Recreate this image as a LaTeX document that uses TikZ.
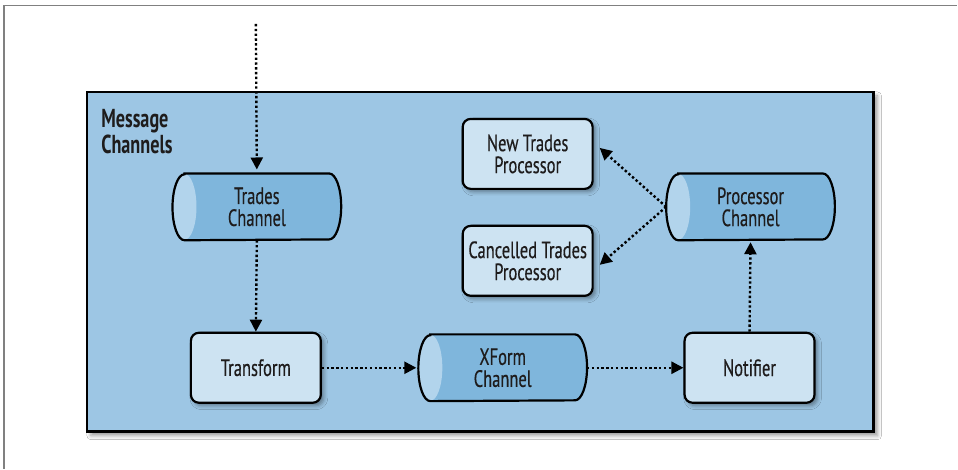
\documentclass[tikz,border=0pt]{standalone}
\usepackage{fontspec}
\setmainfont{PT Sans}[FakeStretch=0.7, UprightFeatures={FakeBold=0.4}]
\usetikzlibrary{arrows.meta,shadows.blur}
\definecolor{boxblue}{RGB}{157,198,228}
\definecolor{chanbody}{RGB}{127,182,220}
\definecolor{chanend}{RGB}{178,212,236}
\definecolor{procfill}{RGB}{205,227,242}
\definecolor{inkgray}{RGB}{30,28,28}
\pgfdeclarelayer{bg}
\pgfsetlayers{bg,main}
\tikzset{
  chan/.style={minimum width=72pt, minimum height=33pt, inner sep=0pt, align=center,
    font=\fontsize{11.8}{11}\selectfont, text=inkgray},
  proc/.style={draw, line width=1.1pt, rounded corners=4pt, fill=procfill, minimum width=65pt,
    minimum height=35pt, inner sep=0pt, align=center, font=\fontsize{11.8}{11}\selectfont, text=inkgray,
    blur shadow={shadow xshift=1.5pt, shadow yshift=-1.5pt, shadow blur radius=2pt, shadow opacity=40}},
  flow/.style={line width=1.2pt, dash pattern=on 1.2pt off 1.2pt, -{Triangle[length=6pt,width=6pt]}}
}
\begin{document}
\begin{tikzpicture}[x=0.5pt,y=0.5pt]
% nodes
\node[chan] (tc) at (257,262) {Trades\\Channel};
\node[proc] (tr) at (256,101) {Transform};
\node[chan] (xc) at (503,101) {XForm\\Channel};
\node[proc] (nt) at (750,101) {Notifier};
\node[chan] (pc) at (751,262) {Processor\\Channel};
\node[proc] (np) at (528,315) {New Trades\\Processor};
\node[proc] (cp) at (528,208) {Cancelled Trades\\Processor};
\node[anchor=north west, align=left, inner sep=0pt, text=inkgray,
  font=\bfseries\fontsize{13}{11.5}\selectfont] (lbl) at (101,360) {Message\\Channels};
\coordinate (src) at (256,445);

% flows
\draw[flow] (src) -- ([yshift=2pt]tc.north);
\draw[flow] (tc.south) -- (tr.north);
\draw[flow] (tr.east) -- ([xshift=-7pt]xc.west);
\draw[flow] ([xshift=6pt]xc.east) -- (nt.west);
\draw[flow] (nt.north) -- ([yshift=-1pt]pc.south);
\draw[flow] ([xshift=-6pt]pc.west) -- ([shift={(3pt,3pt)}]np.east);
\draw[flow] ([xshift=-6pt]pc.west) -- ([shift={(3pt,-2pt)}]cp.east);

% frame, container and channel bodies
\begin{pgfonlayer}{bg}
\fill[white] (0,0) rectangle (958,469);
\draw[gray, line width=0.6pt] (4,0) -- (4,463.5) -- (958,463.5);
\draw[line width=1.3pt, fill=boxblue,
  blur shadow={shadow xshift=2pt, shadow yshift=-2pt, shadow blur radius=2pt, shadow opacity=40}]
  (87,37) rectangle (874,377);
\foreach \c in {tc,xc,pc} {
  \draw[line width=1.1pt, fill=chanbody,
    path picture={\fill[chanend] (\c.west) ellipse[x radius=6pt, y radius=16.5pt];}]
    (\c.north west) -- (\c.north east) arc[start angle=90, end angle=-90, x radius=6pt, y radius=16.5pt]
    -- (\c.south west) arc[start angle=270, end angle=90, x radius=6pt, y radius=16.5pt] -- cycle;
}
\end{pgfonlayer}
\end{tikzpicture}
\end{document}
